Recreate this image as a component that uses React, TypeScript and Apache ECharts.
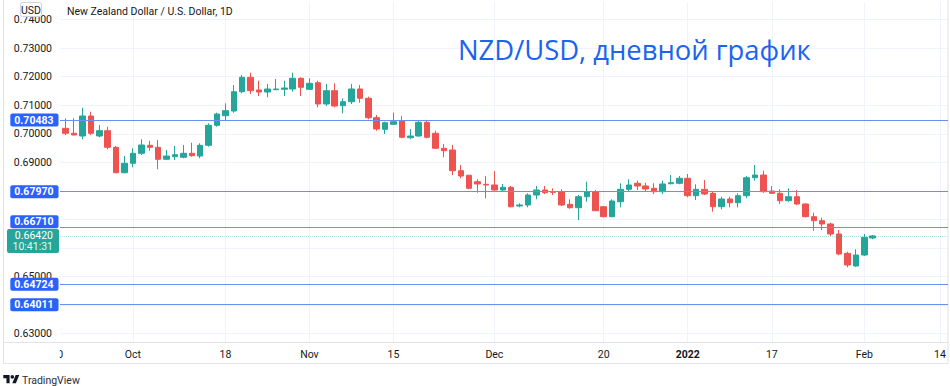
import React, { useEffect, useRef } from 'react';
import * as echarts from 'echarts';

// ---------- data ----------
const START_DATE = '2021-09-20';
const END_DATE = '2022-02-18';
const FIRST_CANDLE_DATE = '2021-09-21';

const OPEN = [
  0.70192, 0.70017, 0.69922, 0.70623, 0.69922, 0.70108, 0.69526, 0.68636, 0.68965, 0.69316,
  0.69596, 0.69526, 0.69106, 0.69197, 0.69176, 0.69316, 0.69221, 0.69596, 0.70297, 0.70634,
  0.70798, 0.71475, 0.7198, 0.71535, 0.71464, 0.71545, 0.71559, 0.7157, 0.71945, 0.71559,
  0.7179, 0.71044, 0.7151, 0.70984, 0.71124, 0.7157, 0.71244, 0.70564, 0.70157, 0.70332,
  0.70448, 0.69863, 0.69922, 0.70402, 0.70017, 0.69491, 0.69432, 0.68706, 0.68545, 0.6832,
  0.68229, 0.68205, 0.6803, 0.68124, 0.67469, 0.67504, 0.67854, 0.6803, 0.6797, 0.6797,
  0.67528, 0.67409, 0.67795, 0.6797, 0.67444, 0.67094, 0.67619, 0.68054, 0.68264, 0.6817,
  0.68089, 0.6797, 0.6825, 0.68264, 0.6844, 0.6783, 0.68054, 0.67914, 0.67444, 0.67714,
  0.67584, 0.6783, 0.68461, 0.68555, 0.67995, 0.67914, 0.67654, 0.67795, 0.67539, 0.67094,
  0.66953, 0.66838, 0.66487, 0.65811, 0.65366, 0.65751, 0.66347,
];
const CLOSE = [
  0.70017, 0.69957, 0.70623, 0.70017, 0.70108, 0.69526, 0.68636, 0.68965, 0.69316, 0.69607,
  0.69526, 0.69106, 0.69221, 0.69267, 0.69316, 0.69232, 0.69596, 0.70297, 0.70693, 0.70809,
  0.71475, 0.7198, 0.7151, 0.71464, 0.7157, 0.7157, 0.71605, 0.71945, 0.71629, 0.71769,
  0.71044, 0.7151, 0.70974, 0.71124, 0.7157, 0.71244, 0.70564, 0.70168, 0.70388, 0.70423,
  0.69877, 0.69922, 0.70402, 0.69877, 0.69491, 0.69407, 0.68706, 0.6852, 0.68089, 0.6824,
  0.68205, 0.6803, 0.68124, 0.67444, 0.67504, 0.67854, 0.6803, 0.67935, 0.67949, 0.67504,
  0.67409, 0.67795, 0.6797, 0.67304, 0.67094, 0.67644, 0.68054, 0.68205, 0.6817, 0.68065,
  0.6797, 0.6824, 0.68285, 0.6844, 0.6783, 0.68054, 0.67889, 0.67444, 0.67714, 0.67584,
  0.6783, 0.68461, 0.68555, 0.6797, 0.67914, 0.67654, 0.67795, 0.67539, 0.67094, 0.66953,
  0.66838, 0.66487, 0.65786, 0.65401, 0.65751, 0.66372, 0.6642,
];
const LOW = [
  0.69957, 0.6995, 0.69807, 0.69957, 0.69877, 0.69456, 0.6862, 0.68615, 0.68825, 0.69256,
  0.69407, 0.68755, 0.69081, 0.69081, 0.69141, 0.69197, 0.69141, 0.69547, 0.70248, 0.70483,
  0.70739, 0.71419, 0.71394, 0.71324, 0.71279, 0.71535, 0.71324, 0.71475, 0.71324, 0.71535,
  0.70928, 0.70974, 0.70928, 0.70718, 0.71044, 0.71089, 0.70508, 0.70108, 0.69992, 0.70308,
  0.69842, 0.69807, 0.69898, 0.69842, 0.69467, 0.69176, 0.68555, 0.6844, 0.68054, 0.67935,
  0.67739, 0.68005, 0.6797, 0.67423, 0.67423, 0.67423, 0.67704, 0.67889, 0.67854, 0.67469,
  0.67374, 0.66978, 0.67619, 0.67293, 0.67073, 0.67073, 0.67423, 0.6797, 0.6803, 0.6797,
  0.67889, 0.67889, 0.68229, 0.68229, 0.67774, 0.67679, 0.67854, 0.67269, 0.67353, 0.67423,
  0.67423, 0.67739, 0.68356, 0.67935, 0.67889, 0.67539, 0.67619, 0.67504, 0.67073, 0.66603,
  0.66628, 0.66417, 0.65741, 0.6532, 0.65341, 0.65716, 0.66301,
];
const HIGH = [
  0.70543, 0.70543, 0.70914, 0.70774, 0.70308, 0.70248, 0.69572, 0.69221, 0.69491, 0.69807,
  0.69757, 0.69782, 0.69432, 0.69572, 0.69607, 0.69687, 0.69666, 0.70367, 0.70739, 0.71068,
  0.7171, 0.7206, 0.72141, 0.7186, 0.71745, 0.7192, 0.7186, 0.72141, 0.7198, 0.71945,
  0.7186, 0.71745, 0.71769, 0.71244, 0.71745, 0.7171, 0.713, 0.70658, 0.70423, 0.70739,
  0.70623, 0.70168, 0.70458, 0.70448, 0.70108, 0.69642, 0.69607, 0.68906, 0.6856, 0.68405,
  0.6852, 0.68695, 0.6824, 0.6817, 0.67563, 0.67914, 0.6817, 0.6817, 0.68089, 0.68054,
  0.67704, 0.67854, 0.6832, 0.6803, 0.67469, 0.67704, 0.68264, 0.68405, 0.68356, 0.68285,
  0.68264, 0.68356, 0.68555, 0.6852, 0.6859, 0.68229, 0.6838, 0.6797, 0.67795, 0.67795,
  0.67914, 0.6852, 0.68906, 0.68706, 0.6817, 0.68054, 0.68089, 0.6803, 0.67563, 0.67234,
  0.67059, 0.66883, 0.66628, 0.65867, 0.65951, 0.66487, 0.66452,
];

const TICK_DATES = [
  '2021-09-20', '2021-10-01', '2021-10-18', '2021-11-01', '2021-11-15', '2021-12-01',
  '2021-12-20', '2022-01-03', '2022-01-17', '2022-02-01', '2022-02-14',
];
const TICK_LABELS = ['20', 'Oct', '18', 'Nov', '15', 'Dec', '20', '2022', '17', 'Feb', '14'];
const YEAR_LABELS = ['2022'];
const Y_TICKS = [0.63, 0.64, 0.65, 0.66, 0.67, 0.68, 0.69, 0.7, 0.71, 0.72, 0.73, 0.74];
const LEVELS = [0.70483, 0.6797, 0.6671, 0.64724, 0.64011];
const LAST_PRICE = 0.6642;
const COUNTDOWN = '10:41:31';
const TITLE = 'NZD/USD, дневной график';
const SYMBOL_TEXT = 'New Zealand Dollar / U.S. Dollar, 1D';
const CURRENCY = 'USD';
const BRAND = 'TradingView';

// ---------- view settings ----------
const Y_MIN = 0.62702;
const Y_MAX = 0.74619;
const GRID_TOP = 2;
const GRID_BOTTOM = 44;
const CHART_H = 386;
const X_PAD_LEFT = 0.678;
const X_SPAN = 105.64;
const PRICE_LABEL_LIFT_PX = 6.9; // current-price box: first line centred on the price

const UP = '#26a69a';
const DOWN = '#ef5350';
const LEVEL_BLUE = '#6990f0';
const LABEL_BLUE = '#2962ff';
const TEXT = '#131722';
const FONT = 'Roboto, "Noto Sans", sans-serif';

const LOGO_D = 'M14 22H7V11H0V4h14v18zM28 22h-8l7.5-18h8L28 22zM20 4a4 4 0 1 1 0 8a4 4 0 1 1 0-8z';
try {
  echarts.graphic.registerShape('tvlogo', echarts.graphic.extendPath(LOGO_D, {}) as any);
} catch (e) {
  /* already registered */
}

function buildWeekdays(start: string, end: string): string[] {
  const out: string[] = [];
  const [sy, sm, sd] = start.split('-').map(Number);
  const [ey, em, ed] = end.split('-').map(Number);
  let t = Date.UTC(sy, sm - 1, sd);
  const te = Date.UTC(ey, em - 1, ed);
  while (t <= te) {
    const d = new Date(t);
    const wd = d.getUTCDay();
    if (wd !== 0 && wd !== 6) out.push(d.toISOString().slice(0, 10));
    t += 86400000;
  }
  return out;
}

const DAYS = buildWeekdays(START_DATE, END_DATE);
const FIRST_IDX = DAYS.indexOf(FIRST_CANDLE_DATE);
const X_MIN = FIRST_IDX - X_PAD_LEFT;
const X_MAX = X_MIN + X_SPAN;
const TICK_IDX = TICK_DATES.map((d) => DAYS.indexOf(d));
const labelByIdx: Record<number, string> = {};
TICK_IDX.forEach((ix, i) => (labelByIdx[ix] = TICK_LABELS[i]));
const PRICE_PER_PX = (Y_MAX - Y_MIN) / (CHART_H - GRID_TOP - GRID_BOTTOM);
const PRICE_LABEL_ANCHOR = LAST_PRICE + PRICE_LABEL_LIFT_PX * PRICE_PER_PX;

// price-scale labels that the level boxes sit on top of are not shown
function isCrowded(v: number) {
  return v > LAST_PRICE && v - LAST_PRICE < 0.0045;
}
function coveredByBox(t: number) {
  for (const v of LEVELS) {
    if (isCrowded(v)) {
      if (t >= v - 0.0005 && t <= v + 0.0052) return true;
    } else if (Math.abs(t - v) < 0.0025) return true;
  }
  return t >= LAST_PRICE - 0.0068 && t <= LAST_PRICE + 0.0023;
}
const Y_LABEL_TICKS = Y_TICKS.filter((t) => !coveredByBox(t));

const labelRich = {
  b: {
    backgroundColor: LABEL_BLUE,
    color: '#ffffff',
    fontWeight: 'bold',
    fontSize: 10.5,
    fontFamily: FONT,
    lineHeight: 12,
    padding: [1, 5, 1, 4],
    borderRadius: 2,
  },
  p: {
    backgroundColor: UP,
    color: '#ffffff',
    fontSize: 10.5,
    fontFamily: FONT,
    lineHeight: 12,
    width: 41,
    align: 'right',
    padding: [1, 6, 0, 5],
    borderRadius: [2, 2, 0, 0],
  },
  t: {
    backgroundColor: UP,
    color: 'rgba(255,255,255,0.92)',
    fontSize: 10.5,
    fontFamily: FONT,
    lineHeight: 12,
    width: 41,
    align: 'right',
    padding: [0, 6, 1, 5],
    borderRadius: [0, 0, 2, 2],
  },
};

export default function App() {
  const ref = useRef<HTMLDivElement>(null);

  useEffect(() => {
    if (!ref.current) return;
    const chart = echarts.init(ref.current, null, { renderer: 'svg' });

    const candles = OPEN.map((o, i) => [FIRST_IDX + i, o, CLOSE[i], LOW[i], HIGH[i]]);

    const option: any = {
      animation: false,
      backgroundColor: '#ffffff',
      textStyle: { fontFamily: FONT },
      grid: { left: 60, right: 2, top: GRID_TOP, bottom: GRID_BOTTOM, containLabel: false, outerBoundsMode: 'none' },
      xAxis: {
        type: 'value',
        min: X_MIN,
        max: X_MAX,
        axisLine: { show: false },
        axisTick: { show: false, customValues: TICK_IDX },
        axisLabel: {
          customValues: TICK_IDX,
          formatter: (v: number) => {
            const l = labelByIdx[Math.round(v)] ?? '';
            return YEAR_LABELS.includes(l) ? `{y|${l}}` : l;
          },
          color: TEXT,
          fontSize: 10.5,
          fontFamily: FONT,
          margin: 7,
          rich: { y: { fontWeight: 'bold', fontSize: 10.5, color: TEXT, fontFamily: FONT } },
        },
        splitLine: { show: true, lineStyle: { color: '#f0f3fa', width: 1 } },
      },
      yAxis: {
        type: 'value',
        position: 'left',
        min: Y_MIN,
        max: Y_MAX,
        axisLine: { show: false },
        axisTick: { show: false, customValues: Y_TICKS },
        axisLabel: {
          customValues: Y_LABEL_TICKS,
          formatter: (v: number) => v.toFixed(5),
          color: TEXT,
          fontSize: 10.5,
          fontFamily: FONT,
          margin: 8,
        },
        splitLine: { show: true, lineStyle: { color: '#f0f3fa', width: 1 } },
      },
      series: [
        {
          type: 'candlestick',
          data: candles,
          barWidth: 6,
          clip: true,
          itemStyle: {
            color: UP,
            color0: DOWN,
            borderColor: UP,
            borderColor0: DOWN,
            borderWidth: 1,
          },
          markLine: {
            silent: true,
            symbol: ['none', 'none'],
            animation: false,
            precision: 5,
            data: [
              ...LEVELS.map((v) => ({
                yAxis: v,
                lineStyle: { color: LEVEL_BLUE, width: 1, type: 'solid' },
                label: {
                  show: true,
                  position: 'start',
                  distance: 1.5,
                  verticalAlign: isCrowded(v) ? 'bottom' : 'middle',
                  formatter: () => `{b|${v.toFixed(5)}}`,
                  rich: labelRich,
                },
              })),
              {
                yAxis: LAST_PRICE,
                lineStyle: { color: 'rgba(38,166,154,0.35)', width: 1, type: 'dotted' },
                label: { show: false },
              },
              {
                yAxis: PRICE_LABEL_ANCHOR,
                lineStyle: { color: 'rgba(0,0,0,0)', width: 0, opacity: 1 },
                label: {
                  show: true,
                  opacity: 1,
                  position: 'start',
                  distance: 1,
                  verticalAlign: 'top',
                  formatter: () => `{p|${LAST_PRICE.toFixed(5)}}\n{t|${COUNTDOWN}}`,
                  rich: labelRich,
                },
              },
            ],
          },
        },
      ],
    };

    chart.setOption(option);

    // tick labels that fall left of the visible pane are drawn clipped at the pane edge
    const extra: any[] = [];
    TICK_IDX.forEach((ix, i) => {
      if (ix < X_MIN) {
        const pt = chart.convertToPixel({ gridIndex: 0 }, [ix, Y_MIN]) as number[];
        extra.push({
          type: 'text',
          x: pt[0],
          y: pt[1] + 12.5,
          z: 50,
          silent: true,
          style: { text: TICK_LABELS[i], fill: TEXT, fontSize: 10.5, fontFamily: FONT, align: 'center', verticalAlign: 'middle' },
        });
      }
    });

    chart.setOption({
      graphic: [
        {
          type: 'rect',
          z: 1,
          silent: true,
          shape: { x: 3.5, y: -5, width: 944.5, height: 368.5 },
          style: { fill: 'none', stroke: '#e0e3eb', lineWidth: 1 },
        },
        {
          type: 'line',
          z: 1,
          silent: true,
          shape: { x1: 3.5, y1: 342.5, x2: 948, y2: 342.5 },
          style: { stroke: '#e0e3eb', lineWidth: 1 },
        },
        ...extra,
        {
          type: 'rect',
          z: 60,
          silent: true,
          shape: { x: 4, y: 344, width: 55.8, height: 18 },
          style: { fill: '#ffffff' },
        },
        {
          type: 'rect',
          z: 100,
          silent: true,
          shape: { x: 20.5, y: 2.5, width: 21, height: 14, r: 2 },
          style: { fill: '#ffffff', stroke: '#d1d4dc', lineWidth: 1 },
        },
        {
          type: 'text',
          z: 101,
          silent: true,
          x: 31,
          y: 10,
          style: { text: CURRENCY, fill: TEXT, fontSize: 10.5, fontFamily: FONT, align: 'center', verticalAlign: 'middle' },
        },
        {
          type: 'text',
          z: 101,
          silent: true,
          x: 67,
          y: 11,
          style: { text: SYMBOL_TEXT, fill: TEXT, fontSize: 10.5, fontFamily: FONT, verticalAlign: 'middle' },
        },
        {
          type: 'text',
          z: 101,
          silent: true,
          x: 458,
          y: 49,
          style: { text: TITLE, fill: '#1c63ee', fontSize: 27.4, fontFamily: '"Open Sans", sans-serif', verticalAlign: 'middle' },
        },
        {
          type: 'tvlogo',
          z: 101,
          silent: true,
          x: 3.3,
          y: 373.3,
          scaleX: 0.45,
          scaleY: 0.45,
          style: { fill: '#131722' },
        },
        {
          type: 'text',
          z: 101,
          silent: true,
          x: 22,
          y: 380,
          style: { text: BRAND, fill: '#2a2e39', fontSize: 10.5, fontFamily: FONT, verticalAlign: 'middle' },
        },
      ],
    });

    return () => chart.dispose();
  }, []);

  return (
    <div
      ref={ref}
      style={{ position: 'absolute', left: 0, top: 0, width: 950, height: 386, background: '#ffffff' }}
    />
  );
}
